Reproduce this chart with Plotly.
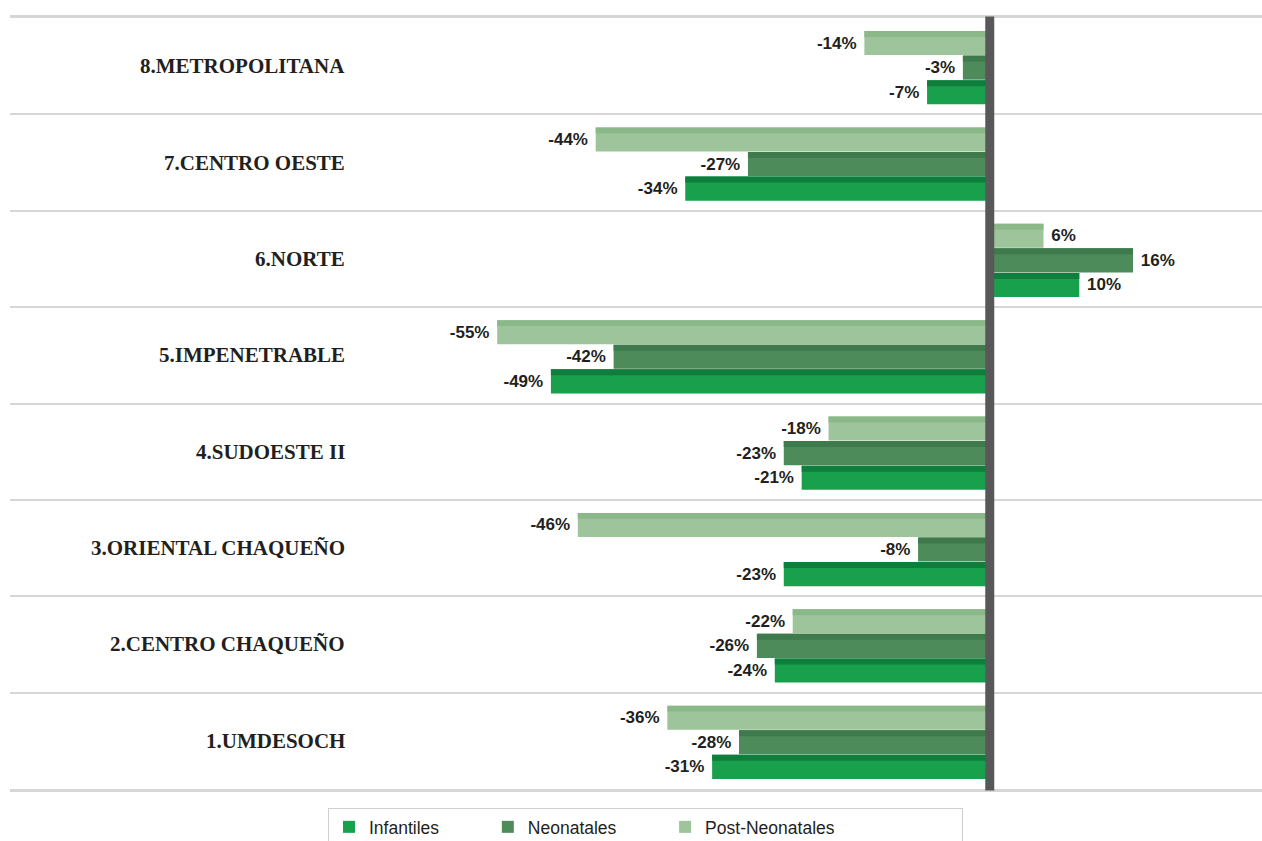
import plotly.graph_objects as go

# ---- data (bottom to top) ----
categories = ["1.UMDESOCH", "2.CENTRO CHAQUEÑO", "3.ORIENTAL CHAQUEÑO", "4.SUDOESTE II",
              "5.IMPENETRABLE", "6.NORTE", "7.CENTRO OESTE", "8.METROPOLITANA"]
infantiles = [-31, -24, -23, -21, -49, 10, -34, -7]
neonatales = [-28, -26, -8, -23, -42, 16, -27, -3]
post_neonatales = [-36, -22, -46, -18, -55, 6, -44, -14]
series_names = ["Infantiles", "Neonatales", "Post-Neonatales"]

NBSP = "\u00a0"
legend_pad = [9, 9, 25]
colors = ["#18a04c", "#4d8b5a", "#9dc49b"]
top_colors = ["#0f7e3c", "#3e7a4b", "#8bb889"]
offsets = [-0.395, -0.140, 0.115]

BAR_W = 0.25
TOP_W = 0.062
TEXT_COLOR = "#231f20"


def label(v):
    return f"{v}%{NBSP}" if v < 0 else f"{NBSP}{v}%"


fig = go.Figure()
all_vals = [infantiles, neonatales, post_neonatales]
for i, (name, vals) in enumerate(zip(series_names, all_vals)):
    fig.add_trace(go.Bar(
        name=name + NBSP * legend_pad[i], y=categories, x=vals, orientation="h",
        offset=offsets[i], width=BAR_W,
        marker=dict(color=colors[i], line=dict(width=0)),
        text=[label(v) for v in vals], texttemplate="%{text}", textposition="outside",
        textfont=dict(family="Liberation Sans, Arial, sans-serif", size=17,
                      color=TEXT_COLOR, weight="bold"),
        cliponaxis=False,
    ))
for i, (name, vals) in enumerate(zip(series_names, all_vals)):
    fig.add_trace(go.Bar(
        name=name + " top", y=categories, x=vals, orientation="h",
        offset=offsets[i] + BAR_W - TOP_W, width=TOP_W,
        marker=dict(color=top_colors[i], line=dict(width=0)),
        textposition="none", showlegend=False, hoverinfo="skip",
    ))

# category labels
for c in categories:
    fig.add_annotation(
        x=0.269, xref="paper", y=c, yref="y", xanchor="right", yanchor="middle",
        text=c, showarrow=False,
        font=dict(family="Liberation Serif, Times New Roman, serif", size=21,
                  color=TEXT_COLOR, weight="bold"),
    )

# zero line on top
fig.add_shape(type="line", xref="x", yref="paper", x0=0, x1=0, y0=-0.002, y1=1.002,
              line=dict(color="#58585a", width=9), layer="above")

fig.update_layout(
    width=1262, height=841,
    margin=dict(l=10, r=0, t=18, b=52, autoexpand=False),
    barmode="overlay",
    plot_bgcolor="white", paper_bgcolor="white",
    showlegend=True,
    legend=dict(
        orientation="h", x=0.254, xanchor="left", y=-0.0246, yanchor="top",
        bordercolor="#cfcfcf", borderwidth=1,
        font=dict(family="Liberation Sans, Arial, sans-serif", size=17.5, color=TEXT_COLOR),
        traceorder="normal",
    ),
    xaxis=dict(range=[-109.4, 30.4], showgrid=False, zeroline=False,
               showticklabels=False, ticks="",
               showline=True, mirror=True, linecolor="#d6d6d6", linewidth=3),
    yaxis=dict(type="category", categoryorder="array", categoryarray=categories,
               range=[-0.5, 7.5], tickson="boundaries", showgrid=True,
               gridcolor="#d6d6d6", gridwidth=2, showticklabels=False, ticks="",
               zeroline=False, showline=False),
)

fig.write_html("out.html")
